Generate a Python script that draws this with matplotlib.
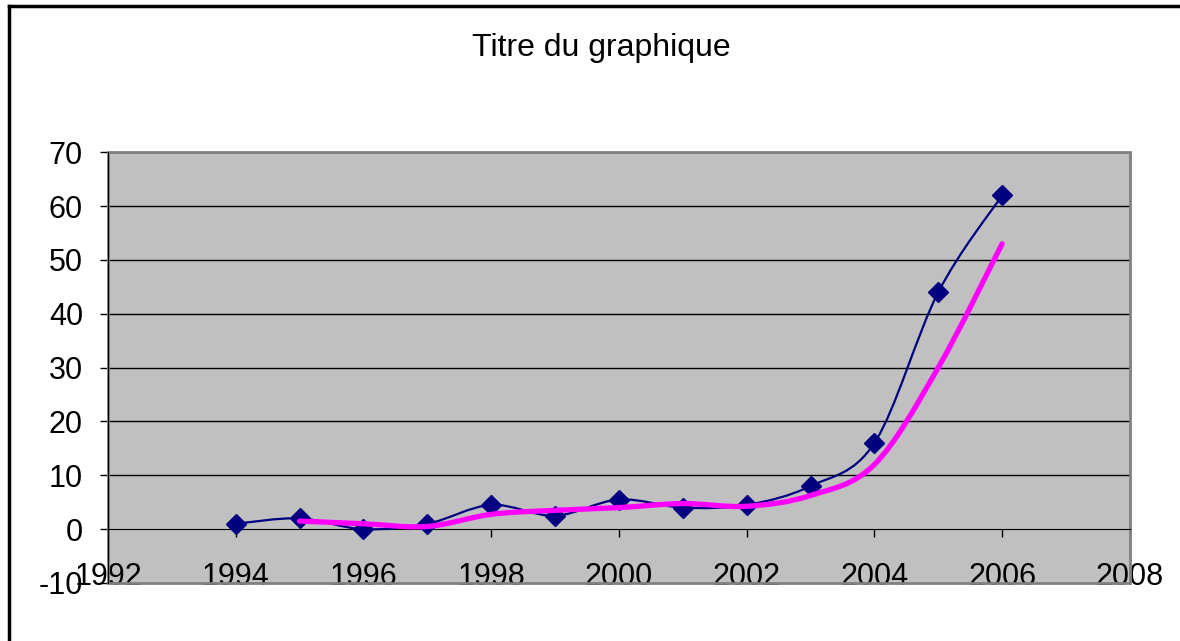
import matplotlib
matplotlib.use("Agg")
import matplotlib.pyplot as plt
from matplotlib.path import Path
from matplotlib.patches import PathPatch, Rectangle
from matplotlib.lines import Line2D

years = [1994, 1995, 1996, 1997, 1998, 1999, 2000, 2001, 2002, 2003, 2004, 2005, 2006]
values = [1, 2, 0, 1, 4.5, 2.5, 5.5, 4, 4.5, 8, 16, 44, 62]

# moving average (2 periods)
avg_years = [1995, 1996, 1997, 1998, 1999, 2000, 2001, 2002, 2003, 2004, 2005, 2006]
avg_values = [1.5, 1.0, 0.5, 2.75, 3.5, 4.0, 4.75, 4.25, 6.25, 12.0, 30.0, 53.0]

x_ticks = [1992, 1994, 1996, 1998, 2000, 2002, 2004, 2006, 2008]
y_ticks = [-10, 0, 10, 20, 30, 40, 50, 60, 70]

plt.rcParams['font.family'] = ['Liberation Sans', 'DejaVu Sans']
plt.rcParams['axes.unicode_minus'] = False


def smooth_path(xs, ys):
    # Excel-like smoothed line: cubic Bezier segments through each point
    pts = list(zip(xs, ys))
    n = len(pts)
    verts = [pts[0]]
    codes = [Path.MOVETO]
    for i in range(n - 1):
        p0 = pts[i - 1] if i > 0 else pts[i]
        p1 = pts[i]
        p2 = pts[i + 1]
        p3 = pts[i + 2] if i + 2 < n else pts[i + 1]
        c1 = (p1[0] + (p2[0] - p0[0]) / 6, p1[1] + (p2[1] - p0[1]) / 6)
        c2 = (p2[0] - (p3[0] - p1[0]) / 6, p2[1] - (p3[1] - p1[1]) / 6)
        verts += [c1, c2, p2]
        codes += [Path.CURVE4] * 3
    return Path(verts, codes)


fig = plt.figure(figsize=(11.8, 6.41), dpi=100)
ax = fig.add_axes([0.0915, 0.0905, 0.866, 0.672])
ax.set_facecolor('#c0c0c0')

ax.set_xlim(1992, 2008)
ax.set_ylim(-10, 70)
ax.set_xticks(x_ticks)
ax.set_yticks(y_ticks)

for y in y_ticks[2:]:
    ax.axhline(y, color='black', lw=1, zorder=1)

ax.add_patch(PathPatch(smooth_path(years, values), fill=False,
                       edgecolor='#000080', lw=1.6, zorder=3))
ax.plot(years, values, linestyle='none', marker='D', markersize=10,
        color='#000080', zorder=4)
ax.add_patch(PathPatch(smooth_path(avg_years, avg_values), fill=False,
                       edgecolor='#ff00ff', lw=3.8, capstyle='round',
                       joinstyle='round', zorder=5))

for s in ['top', 'right']:
    ax.spines[s].set_visible(False)
ax.add_patch(Rectangle((0, 0), 1, 1, transform=ax.transAxes, fill=False,
                       edgecolor='#808080', lw=2, zorder=2, clip_on=False))
ax.spines['bottom'].set_position(('data', 0))
ax.spines['bottom'].set_color('black')
ax.spines['left'].set_color('black')
ax.spines['left'].set_zorder(6)

ax.tick_params(axis='x', direction='out', length=6, width=1, pad=18,
               labelsize=22)
ax.tick_params(axis='y', direction='out', length=6, width=1, pad=12,
               labelsize=22)

fig.text(0.51, 0.925, 'Titre du graphique', ha='center', va='center',
         fontsize=23)

fig.add_artist(Line2D([0.0076, 0.0076], [0.0, 0.9906], color='black', lw=2.5))
fig.add_artist(Line2D([0.0076, 1.0], [0.9906, 0.9906], color='black', lw=2.5))

fig.savefig('out.png', dpi=100)
